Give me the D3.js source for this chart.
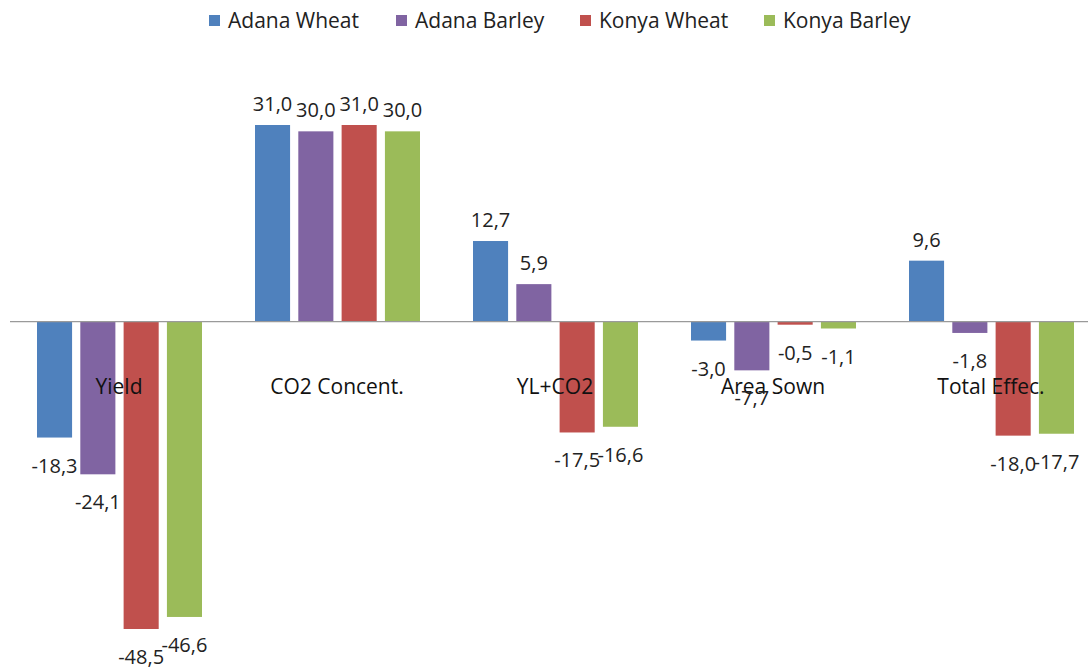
<!DOCTYPE html>
<html>
<head>
<meta charset="utf-8">
<script src="https://cdn.jsdelivr.net/npm/d3@7"></script>
<style>
  body { margin: 0; background: #fff; }
  svg { font-family: "Open Sans", sans-serif; }
</style>
</head>
<body>
<div id="chart"></div>
<script>
var categories = ["Yield", "CO2 Concent.", "YL+CO2", "Area Sown", "Total Effec."];
var seriesNames = ["Adana Wheat", "Adana Barley", "Konya Wheat", "Konya Barley"];
var seriesColors = ["#4F81BD", "#8064A2", "#C0504D", "#9BBB59"];
var adanaWheat = [-18.3, 31.0, 12.7, -3.0, 9.6];
var adanaBarley = [-24.1, 30.0, 5.9, -7.7, -1.8];
var konyaWheat = [-48.5, 31.0, -17.5, -0.5, -18.0];
var konyaBarley = [-46.6, 30.0, -16.6, -1.1, -17.7];
var seriesValues = [adanaWheat, adanaBarley, konyaWheat, konyaBarley];

var width = 1088, height = 668;

var svg = d3.select("#chart").append("svg")
    .attr("width", width)
    .attr("height", height);

// scales
var x0 = d3.scaleBand().domain(categories).range([10, 1100]).paddingInner(0).paddingOuter(0);
var x1 = d3.scaleBand().domain(seriesNames).range([27, x0.bandwidth() - 26]).paddingInner(0.19).paddingOuter(0);
var y = d3.scaleLinear().domain([-48.5, 31]).range([629, 125]);

// comma decimals, plain hyphen for minus
var fmt = function(v) { return v.toFixed(1).replace(".", ","); };

// bars
seriesNames.forEach(function(name, s) {
  svg.append("g").selectAll("rect")
    .data(seriesValues[s])
    .join("rect")
      .attr("x", function(d, i) { return x0(categories[i]) + x1(name); })
      .attr("y", function(d) { return y(Math.max(0, d)); })
      .attr("width", x1.bandwidth())
      .attr("height", function(d) { return Math.abs(y(d) - y(0)); })
      .attr("fill", seriesColors[s]);
});

// zero line
svg.append("line")
    .attr("x1", 10).attr("x2", width)
    .attr("y1", y(0)).attr("y2", y(0))
    .attr("stroke", "#9a9a9a")
    .attr("stroke-width", 1.2);

// category labels
svg.append("g").selectAll("text")
  .data(categories)
  .join("text")
    .attr("x", function(d) { return x0(d) + x0.bandwidth() / 2; })
    .attr("y", 394)
    .attr("text-anchor", "middle")
    .attr("font-size", 21)
    .attr("fill", "#111")
    .text(function(d) { return d; });

// value labels
seriesNames.forEach(function(name, s) {
  svg.append("g").selectAll("text")
    .data(seriesValues[s])
    .join("text")
      .attr("x", function(d, i) { return x0(categories[i]) + x1(name) + x1.bandwidth() / 2; })
      .attr("y", function(d) { return d >= 0 ? y(d) - 14 : y(d) + 35; })
      .attr("text-anchor", "middle")
      .attr("font-size", 20)
      .attr("fill", "#222")
      .text(function(d) { return fmt(d); });
});

// legend
var legendX = [209, 396, 580, 764];
var legend = svg.append("g").selectAll("g")
  .data(seriesNames)
  .join("g")
    .attr("transform", function(d, i) { return "translate(" + legendX[i] + ",0)"; });

legend.append("rect")
    .attr("x", 0).attr("y", 15)
    .attr("width", 11).attr("height", 11)
    .attr("fill", function(d, i) { return seriesColors[i]; });

legend.append("text")
    .attr("x", 19).attr("y", 28)
    .attr("font-size", 21)
    .attr("fill", "#222")
    .text(function(d) { return d; });
</script>
</body>
</html>
